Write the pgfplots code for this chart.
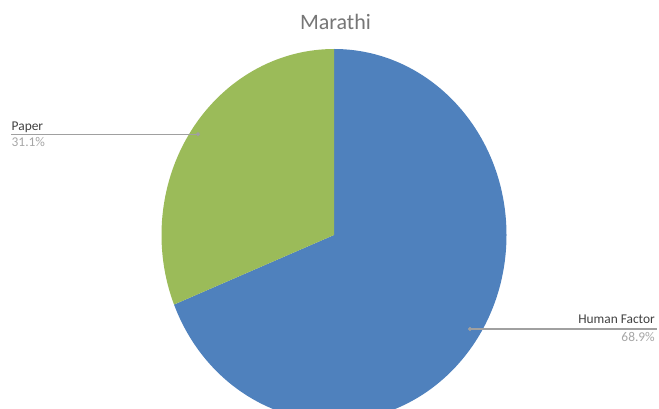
\documentclass[border=0pt]{standalone}
\usepackage{pgfplots}
\pgfplotsset{compat=1.18}
\usepackage{pgfplotstable}
\usepackage{fontspec}
\setmainfont{Carlito}
\definecolor{pieblue}{HTML}{4F81BD}
\definecolor{piegreen}{HTML}{9BBB59}
\definecolor{titlegray}{HTML}{767676}
\definecolor{labdark}{HTML}{404040}
\definecolor{labgray}{HTML}{A6A6A6}
\definecolor{leader}{HTML}{A0A0A0}
\pgfplotstableread{
label value
HumanFactor 68.9
Paper 31.1
}\piedata
\begin{document}
\begin{tikzpicture}
\pgfplotstablegetelem{0}{value}\of\piedata \let\vA\pgfplotsretval
\pgfplotstablegetelem{1}{value}\of\piedata \let\vB\pgfplotsretval
\pgfmathsetmacro{\aA}{90-3.6*\vA}
\pgfmathsetmacro{\aB}{\aA-3.6*\vB}
\begin{axis}[
  width=659bp, height=409bp, scale only axis,
  xmin=0, xmax=659, ymin=0, ymax=409,
  hide axis, clip=true,
]
% pie sectors (centre 334,174 in bp; radii 172.5 x 186)
\fill[pieblue] (axis cs:334,174) -- (axis cs:334,360)
   arc[start angle=90, end angle=\aA, x radius=172.5bp, y radius=186bp] -- cycle;
\fill[piegreen] (axis cs:334,174) -- ++({172.5bp*cos(\aA)},{186bp*sin(\aA)})
   arc[start angle=\aA, end angle=\aB, x radius=172.5bp, y radius=186bp] -- cycle;
% leader lines
\addplot[leader, line width=1.4bp, no markers] coordinates {(11,274.7) (198,274.7)};
\addplot[leader, only marks, mark=*, mark size=1.8bp] coordinates {(198,274.7)};
\addplot[leader, line width=1.4bp, no markers] coordinates {(470,80) (657,80)};
\addplot[leader, only marks, mark=*, mark size=1.8bp] coordinates {(470,80)};
% texts
\node[anchor=base, text=titlegray, inner sep=0pt, font=\fontsize{22bp}{26bp}\selectfont] at (axis cs:335.5,379) {Marathi};
\node[anchor=base west, text=labdark, inner sep=0pt, font=\fontsize{13.4bp}{16bp}\selectfont] at (axis cs:11.5,278.3) {Paper};
\node[anchor=base west, text=labgray, inner sep=0pt, font=\fontsize{13.4bp}{16bp}\selectfont] at (axis cs:11.5,262) {31.1\%};
\node[anchor=base east, text=labdark, inner sep=0pt, font=\fontsize{13.4bp}{16bp}\selectfont] at (axis cs:655,85) {Human Factor};
\node[anchor=base east, text=labgray, inner sep=0pt, font=\fontsize{13.4bp}{16bp}\selectfont] at (axis cs:655,67.3) {68.9\%};
\coordinate (BL) at (rel axis cs:0,0);
\coordinate (TR) at (rel axis cs:1,1);
\end{axis}
\pgfresetboundingbox
\useasboundingbox (BL) rectangle (TR);
\end{tikzpicture}
\end{document}
